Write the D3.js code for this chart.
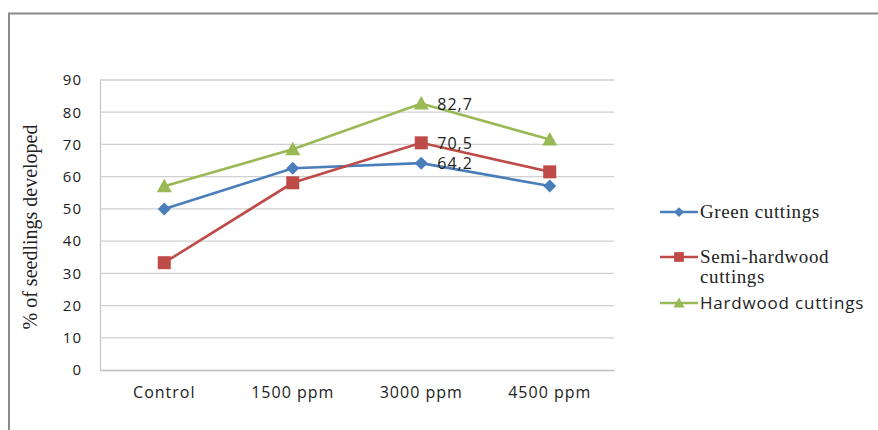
<!DOCTYPE html>
<html>
<head>
<meta charset="utf-8">
<script src="https://cdn.jsdelivr.net/npm/d3@7"></script>
<style>
  body { margin: 0; background: #fff; }
  svg { display: block; }
</style>
</head>
<body>
<svg id="chart" width="878" height="430"></svg>
<script>
// data
const categories = ['Control', '1500 ppm', '3000 ppm', '4500 ppm'];
const greenCuttings = [50, 62.6, 64.2, 57.1];
const semiHardwood = [33.3, 58.1, 70.5, 61.5];
const hardwood = [57, 68.5, 82.7, 71.5];
const yTicks = [0, 10, 20, 30, 40, 50, 60, 70, 80, 90];

const series = [
    { name: ['Green cuttings'], values: greenCuttings, color: '#4a7ebb', marker: 'diamond', serif: true, label: 2 },
    { name: ['Semi-hardwood', 'cuttings'], values: semiHardwood, color: '#be4b48', marker: 'square', serif: true, label: 2 },
    { name: ['Hardwood cuttings'], values: hardwood, color: '#98b954', marker: 'triangle', serif: false, label: 2 },
];

const svg = d3.select('#chart');

// outer frame
svg.append('path')
    .attr('d', 'M9,440 L9,13.5 L890,13.5')
    .attr('fill', 'none')
    .attr('stroke', '#8a8a8a')
    .attr('stroke-width', 2);

const plot = { left: 100, right: 614, top: 80, bottom: 370 };

const x = d3.scaleBand()
    .domain(categories)
    .range([plot.left, plot.right]);

const y = d3.scaleLinear()
    .domain([0, 90])
    .range([plot.bottom, plot.top]);

// gridlines
svg.append('g')
    .selectAll('line')
    .data(yTicks.filter((t) => t > 0))
    .enter()
    .append('line')
    .attr('x1', plot.left)
    .attr('x2', plot.right)
    .attr('y1', (d) => y(d))
    .attr('y2', (d) => y(d))
    .attr('stroke', '#d0d0d0')
    .attr('stroke-width', 1.3);

// y axis
const yAxis = svg.append('g')
    .attr('transform', `translate(${plot.left},0)`)
    .call(d3.axisLeft(y).tickValues(yTicks).tickSize(0).tickPadding(18));
yAxis.select('.domain').attr('stroke', '#c8c8c8').attr('stroke-width', 1.3);
yAxis.selectAll('text')
    .attr('font-family', 'Open Sans, sans-serif')
    .attr('font-size', 15)
    .attr('letter-spacing', 1)
    .attr('fill', '#222');

// x axis
const xAxis = svg.append('g')
    .attr('transform', `translate(0,${plot.bottom})`)
    .call(d3.axisBottom(x).tickSize(0).tickPadding(17));
xAxis.select('.domain').attr('stroke', '#bdbdbd').attr('stroke-width', 1.5);
xAxis.selectAll('text')
    .attr('font-family', 'Open Sans, sans-serif')
    .attr('font-size', 16)
    .attr('letter-spacing', 1)
    .attr('fill', '#222');

// y title
svg.append('text')
    .attr('transform', 'translate(37,227) rotate(-90)')
    .attr('text-anchor', 'middle')
    .attr('font-family', 'Liberation Serif, serif')
    .attr('font-size', 20)
    .attr('fill', '#222')
    .text('% of seedlings developed');

const cx = (i) => x(categories[i]) + x.bandwidth() / 2;

const line = d3.line()
    .x((d, i) => cx(i))
    .y((d) => y(d));

function marker(g, type, color) {
    if (type === 'diamond') {
        g.append('path').attr('d', 'M0,-6.5 L6.5,0 L0,6.5 L-6.5,0 Z').attr('fill', color);
    } else if (type === 'square') {
        g.append('rect').attr('x', -6.5).attr('y', -6.5).attr('width', 13).attr('height', 13).attr('fill', color);
    } else {
        g.append('path').attr('d', 'M0,-7.5 L7.5,6 L-7.5,6 Z').attr('fill', color);
    }
}

series.forEach((s) => {
    svg.append('path')
        .datum(s.values)
        .attr('d', line)
        .attr('fill', 'none')
        .attr('stroke', s.color)
        .attr('stroke-width', 2.6);

    s.values.forEach((v, i) => {
        const g = svg.append('g').attr('transform', `translate(${cx(i)},${y(v)})`);
        marker(g, s.marker, s.color);
    });

    // data label at 3000 ppm
    svg.append('text')
        .attr('x', cx(s.label) + 16)
        .attr('y', y(s.values[s.label]) + 6)
        .attr('font-family', 'Open Sans, sans-serif')
        .attr('font-size', 16)
        .attr('letter-spacing', 1)
        .attr('fill', '#222')
        .text(d3.format('.1f')(s.values[s.label]).replace('.', ','));
});

// legend
const legendY = [212, 257, 303];
series.forEach((s, i) => {
    const g = svg.append('g').attr('transform', `translate(660,${legendY[i]})`);
    g.append('line')
        .attr('x1', 0).attr('x2', 38)
        .attr('stroke', s.color)
        .attr('stroke-width', 2.6);
    const m = g.append('g').attr('transform', 'translate(19,0) scale(0.75)');
    marker(m, s.marker, s.color);
    s.name.forEach((t, j) => {
        g.append('text')
            .attr('x', 40)
            .attr('y', 6 + j * 20)
            .attr('font-family', s.serif ? 'Liberation Serif, serif' : 'Open Sans, sans-serif')
            .attr('font-size', s.serif ? 19 : 17)
            .attr('letter-spacing', s.serif ? 0.6 : 0.8)
            .attr('fill', '#222')
            .text(t);
    });
});
</script>
</body>
</html>
